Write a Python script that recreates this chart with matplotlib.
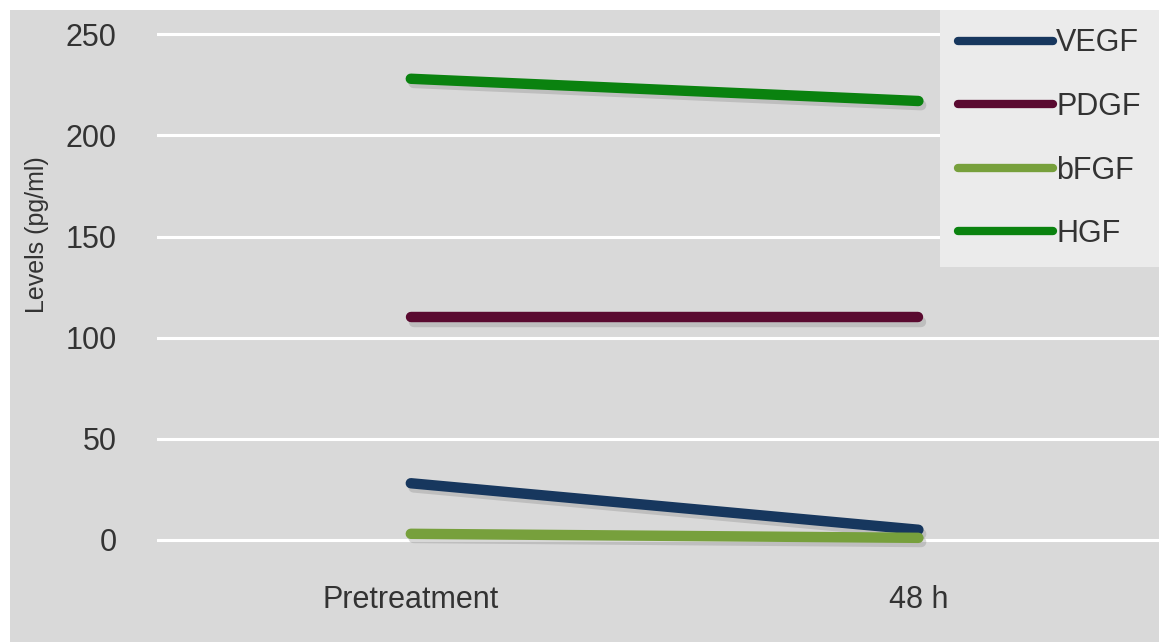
import matplotlib.pyplot as plt
import matplotlib.patheffects as pe
from matplotlib.patches import Rectangle

# growth factor levels (pg/ml) before treatment and at 48 h
timepoints = ["Pretreatment", "48 h"]
vegf = [28, 5]
pdgf = [110, 110]
bfgf = [3, 1]
hgf = [228, 217]

series = [
    ("VEGF", vegf, "#17375e"),
    ("PDGF", pdgf, "#5a0a30"),
    ("bFGF", bfgf, "#77a03c"),
    ("HGF", hgf, "#0a820f"),
]

W, H = 1159, 642
fig = plt.figure(figsize=(W / 100, H / 100), dpi=100, facecolor="white")
plt.rcParams['font.family'] = ['Liberation Sans', 'DejaVu Sans']

# grey chart area with a thin white border on the top and left
bg = Rectangle((10 / W, 0), 1, 1 - 10 / H, transform=fig.transFigure,
               facecolor="#d9d9d9", edgecolor="none", zorder=-10)
fig.add_artist(bg)

ax = fig.add_axes([157 / W, 0, 1 - 157 / W, 1 - 10 / H])
ax.set_facecolor("none")
for s in ax.spines.values():
    s.set_visible(False)

x = list(range(len(timepoints)))
shadow = [pe.SimpleLineShadow(offset=(2, -3), shadow_color="#808080", alpha=0.3),
          pe.Normal()]
for name, vals, col in series:
    ax.plot(x, vals, color=col, lw=7.5, solid_capstyle="round", label=name,
            path_effects=shadow, zorder=3)

ax.set_xlim(-0.5, 1.474)
ax.set_ylim(-50.5, 262)
ax.set_yticks(range(0, 251, 50))
ax.set_xticks(x)
ax.set_xticklabels(timepoints)
ax.yaxis.grid(True, color="white", lw=2.2)
ax.set_axisbelow(True)
ax.tick_params(axis="both", length=0, labelsize=22, labelcolor="#333333")
ax.tick_params(axis="y", pad=29)
ax.tick_params(axis="x", pad=-41)

fig.text(37 / W, 1 - 235 / H, "Levels (pg/ml)", rotation=90, ha="center", va="center",
         fontsize=18, color="#333333")

# legend with its own lighter panel, handles without shadows
leg = ax.legend(loc="upper right", bbox_to_anchor=(1, 1 - 10 / H),
                bbox_transform=fig.transFigure, frameon=True, fancybox=False,
                facecolor="#ebebeb", edgecolor="none", framealpha=1,
                fontsize=22, handlelength=3.1, handletextpad=0.1,
                labelspacing=1.1, borderpad=0.6, borderaxespad=0)
for line in leg.get_lines():
    line.set_path_effects([])
    line.set_linewidth(6)
for t in leg.get_texts():
    t.set_color("#333333")

fig.savefig("out.png", dpi=100, facecolor="white")
